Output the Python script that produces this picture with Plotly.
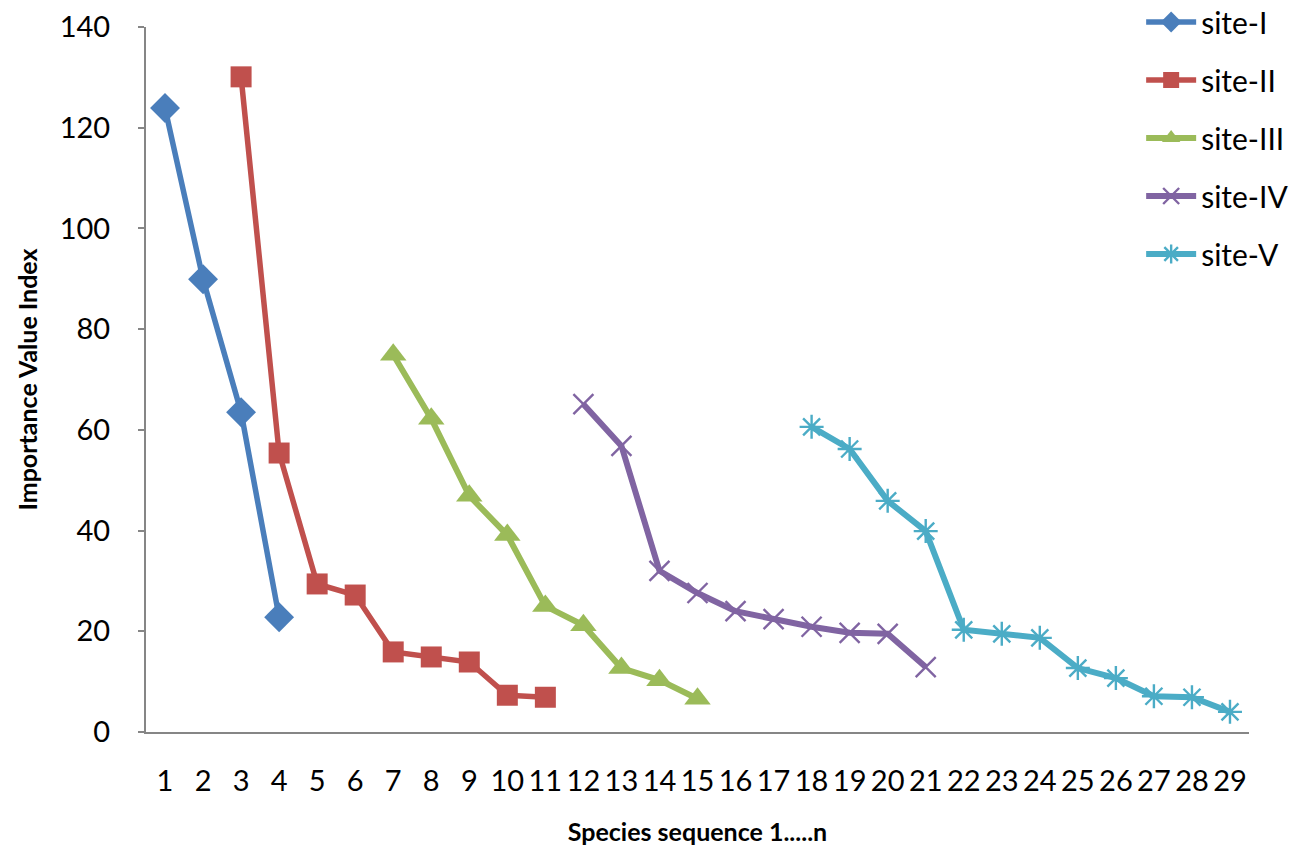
import plotly.graph_objects as go

species = list(range(1, 30))

site_I_x = [1, 2, 3, 4]
site_I = [123.9, 89.9, 63.5, 22.8]

site_II_x = [3, 4, 5, 6, 7, 8, 9, 10, 11]
site_II = [130.1, 55.4, 29.4, 27.2, 15.9, 14.9, 13.9, 7.3, 6.9]

site_III_x = [7, 8, 9, 10, 11, 12, 13, 14, 15]
site_III = [74.9, 62.2, 46.9, 39.1, 25.0, 21.2, 12.7, 10.3, 6.6]

site_IV_x = [12, 13, 14, 15, 16, 17, 18, 19, 20, 21]
site_IV = [65.1, 56.8, 32.0, 27.6, 24.0, 22.4, 20.9, 19.7, 19.5, 12.9]

site_V_x = [18, 19, 20, 21, 22, 23, 24, 25, 26, 27, 28, 29]
site_V = [60.6, 56.2, 45.9, 39.9, 20.3, 19.5, 18.7, 12.7, 10.7, 7.1, 6.9, 4.0]

y_ticks = [0, 20, 40, 60, 80, 100, 120, 140]

FONT = "Lato"

series = [
    ("site-I", site_I_x, site_I, "#4A7EBB", dict(symbol="diamond", size=23), 5.5),
    ("site-II", site_II_x, site_II, "#C0504D", dict(symbol="square", size=21), 5.5),
    ("site-III", site_III_x, site_III, "#9BBB59", dict(symbol="triangle-up", size=23), 6),
    ("site-IV", site_IV_x, site_IV, "#8064A2", dict(symbol="x-thin-open", size=20, line=dict(width=2.4)), 6),
    ("site-V", site_V_x, site_V, "#4BACC6", dict(symbol="asterisk-open", size=20, line=dict(width=2.4)), 6),
]

fig = go.Figure()
for name, xs, ys, color, mk, lw in series:
    marker = dict(color=color, **mk)
    if "line" in marker:
        marker["line"] = dict(color=color, width=mk["line"]["width"])
    fig.add_trace(go.Scatter(
        x=xs, y=ys, name=name, mode="lines+markers",
        line=dict(color=color, width=lw),
        marker=marker, legendgroup=name,
    ))

fig.update_layout(
    width=1310, height=850,
    paper_bgcolor="white", plot_bgcolor="white",
    margin=dict(l=138, r=69, t=19, b=126, autoexpand=False),
    font=dict(family=FONT, color="black"),
    legend=dict(
        x=0.865, y=1.044, xref="container", yref="paper", xanchor="left", yanchor="top",
        font=dict(size=30, family=FONT), tracegroupgap=16, itemwidth=50,
        bgcolor="rgba(0,0,0,0)",
    ),
    xaxis=dict(
        range=[0.5, 29.5], tickvals=species, ticktext=[str(s) for s in species],
        showline=True, linecolor="#868686", linewidth=2, showgrid=False, zeroline=False,
        ticks="", tickfont=dict(size=29, family=FONT), ticklabelstandoff=22,
        automargin=False,
        title=dict(text="<b>Species sequence 1.....n</b>", font=dict(size=25, family=FONT), standoff=28),
    ),
    yaxis=dict(
        range=[0, 140], tickvals=y_ticks,
        showline=True, linecolor="#868686", linewidth=2, showgrid=False, zeroline=False,
        ticks="outside", ticklen=6, tickcolor="#868686", tickwidth=2,
        tickfont=dict(size=29, family=FONT), ticklabelstandoff=22,
        automargin=False,
        title=dict(text="<b>Importance Value Index</b>", font=dict(size=25, family=FONT), standoff=15),
    ),
)

fig.write_html("out.html")
